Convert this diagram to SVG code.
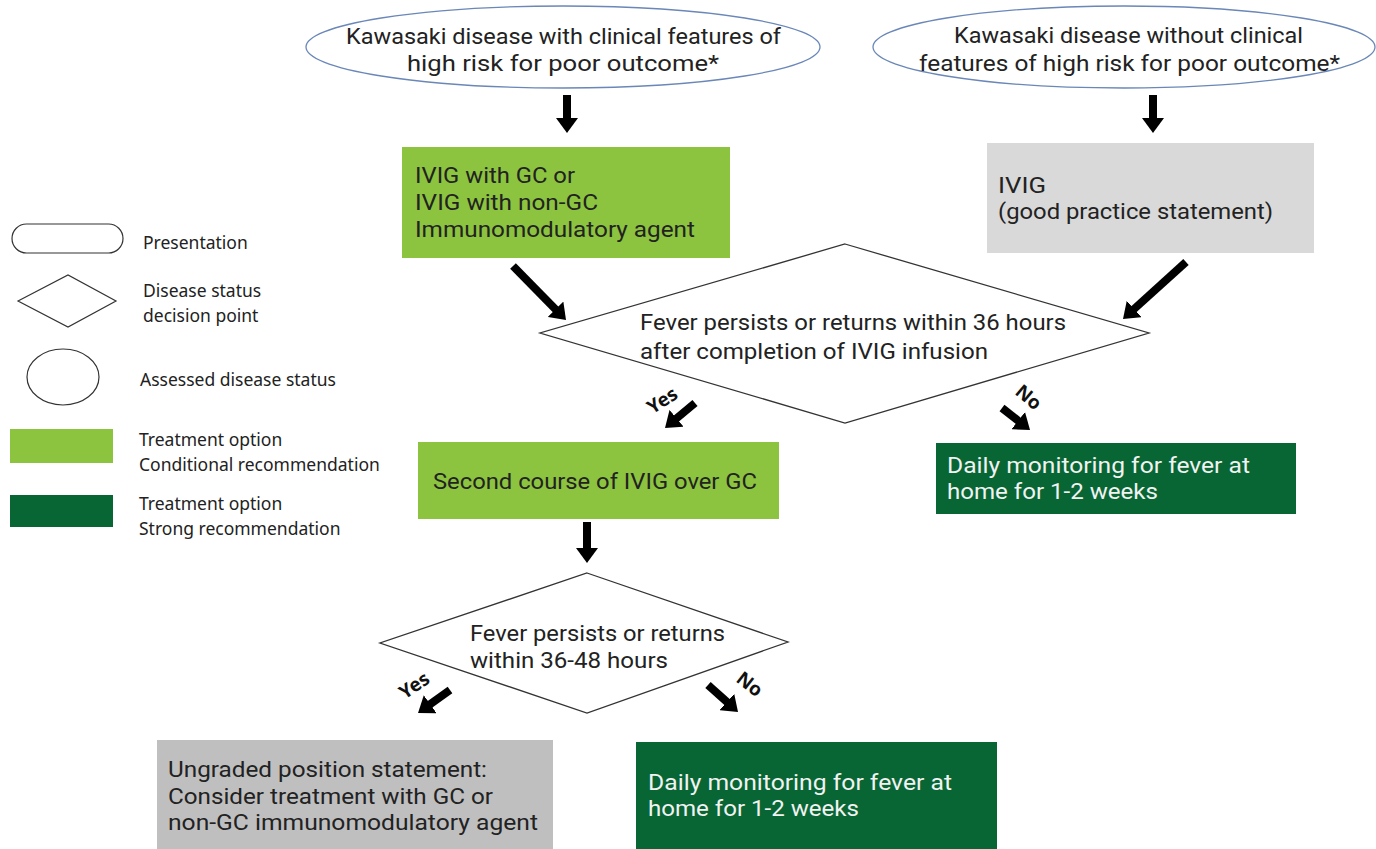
<svg xmlns="http://www.w3.org/2000/svg" width="1376" height="849" viewBox="0 0 1376 849">
<style>
.t{font-family:Roboto,"Noto Sans","Liberation Sans",sans-serif;font-size:22px;fill:#222}
.w{fill:#f2f2f2}
.lg{font-family:"Noto Sans","Open Sans","Liberation Sans",sans-serif;font-size:17.5px;fill:#222}
.yn{font-family:"Noto Sans","Liberation Sans",sans-serif;font-size:19px;font-weight:bold;fill:#111}
.pres{fill:#fff;stroke:#6a87b8;stroke-width:1.3}
.dia{fill:#fff;stroke:#333;stroke-width:1.3}
.lgs{fill:#fff;stroke:#333;stroke-width:1.2}
.lite{fill:#8cc43f}
.dark{fill:#076634}
.grey1{fill:#d9d9d9}
.grey2{fill:#bfbfbf}
.arr{stroke:#000;stroke-width:8;fill:none;marker-end:url(#ah)}
</style>
<defs>
<marker id="ah" markerUnits="userSpaceOnUse" markerWidth="15" markerHeight="22" viewBox="0 0 15 22" refX="1" refY="11" orient="auto">
<path d="M0,0 L15,11 L0,22 z" fill="#000"/>
</marker>
</defs>
<rect width="1376" height="849" fill="#fff"/>

<g id="legend">
<rect class="lgs" x="12" y="224" width="111" height="29" rx="14.5"/>
<text class="lg" x="143" y="249">Presentation</text>
<polygon class="lgs" points="18,301 68,275 116,301 68,327"/>
<text class="lg" x="143" y="297">Disease status</text>
<text class="lg" x="143" y="322">decision point</text>
<ellipse class="lgs" cx="63" cy="377" rx="36" ry="28"/>
<text class="lg" x="140" y="386">Assessed disease status</text>
<rect class="lite" x="10" y="429" width="103" height="34"/>
<text class="lg" x="139" y="446">Treatment option</text>
<text class="lg" x="139" y="471">Conditional recommendation</text>
<rect class="dark" x="10" y="495" width="103" height="32"/>
<text class="lg" x="139" y="510">Treatment option</text>
<text class="lg" x="139" y="535">Strong recommendation</text>
</g>

<g id="pres-high">
<ellipse class="pres" cx="563" cy="47" rx="257" ry="41"/>
<text class="t" x="346" y="44" textLength="435" lengthAdjust="spacingAndGlyphs">Kawasaki disease with clinical features of</text>
<text class="t" x="407" y="71" textLength="312" lengthAdjust="spacingAndGlyphs">high risk for poor outcome*</text>
</g>

<g id="pres-low">
<ellipse class="pres" cx="1124" cy="47" rx="251" ry="41"/>
<text class="t" x="954" y="43" textLength="349" lengthAdjust="spacingAndGlyphs">Kawasaki disease without clinical</text>
<text class="t" x="919" y="71" textLength="421" lengthAdjust="spacingAndGlyphs">features of high risk for poor outcome*</text>
</g>

<g id="ivig-gc">
<rect class="lite" x="402" y="147" width="328" height="111"/>
<text class="t" x="415" y="183" textLength="160" lengthAdjust="spacingAndGlyphs">IVIG with GC or</text>
<text class="t" x="415" y="210" textLength="183" lengthAdjust="spacingAndGlyphs">IVIG with non-GC</text>
<text class="t" x="415" y="237" textLength="280" lengthAdjust="spacingAndGlyphs">Immunomodulatory agent</text>
</g>

<g id="ivig-gps">
<rect class="grey1" x="987" y="143" width="327" height="110"/>
<text class="t" x="998" y="193" textLength="48" lengthAdjust="spacingAndGlyphs">IVIG</text>
<text class="t" x="998" y="219" textLength="275" lengthAdjust="spacingAndGlyphs">(good practice statement)</text>
</g>

<g id="decision-36">
<polygon class="dia" points="845,244 1149,333 845,423 540,333"/>
<text class="t" x="640" y="330" textLength="426" lengthAdjust="spacingAndGlyphs">Fever persists or returns within 36 hours</text>
<text class="t" x="640" y="359" textLength="348" lengthAdjust="spacingAndGlyphs">after completion of IVIG infusion</text>
</g>

<g id="second-ivig">
<rect class="lite" x="418" y="442" width="361" height="77"/>
<text class="t" x="433" y="489" textLength="324" lengthAdjust="spacingAndGlyphs">Second course of IVIG over GC</text>
</g>

<g id="monitor-1">
<rect class="dark" x="936" y="443" width="360" height="71"/>
<text class="t w" x="947" y="473" textLength="303" lengthAdjust="spacingAndGlyphs">Daily monitoring for fever at</text>
<text class="t w" x="947" y="499" textLength="211" lengthAdjust="spacingAndGlyphs">home for 1-2 weeks</text>
</g>

<g id="decision-48">
<polygon class="dia" points="587,573 788,642 587,713 380,643"/>
<text class="t" x="470" y="641" textLength="255" lengthAdjust="spacingAndGlyphs">Fever persists or returns</text>
<text class="t" x="470" y="668" textLength="198" lengthAdjust="spacingAndGlyphs">within 36-48 hours</text>
</g>

<g id="ungraded">
<rect class="grey2" x="157" y="740" width="396" height="109"/>
<text class="t" x="168" y="777" textLength="319" lengthAdjust="spacingAndGlyphs">Ungraded position statement:</text>
<text class="t" x="168" y="804" textLength="325" lengthAdjust="spacingAndGlyphs">Consider treatment with GC or</text>
<text class="t" x="168" y="830" textLength="370" lengthAdjust="spacingAndGlyphs">non-GC immunomodulatory agent</text>
</g>

<g id="monitor-2">
<rect class="dark" x="636" y="742" width="361" height="107"/>
<text class="t w" x="648" y="790" textLength="304" lengthAdjust="spacingAndGlyphs">Daily monitoring for fever at</text>
<text class="t w" x="648" y="816" textLength="211" lengthAdjust="spacingAndGlyphs">home for 1-2 weeks</text>
</g>

<g id="connectors">
<line class="arr" x1="567" y1="95" x2="567" y2="119"/>
<line class="arr" x1="1153" y1="95" x2="1153" y2="119"/>
<line class="arr" x1="513" y1="266" x2="556.2" y2="310"/>
<line class="arr" x1="1186" y1="262" x2="1133.4" y2="309.6"/>
<line class="arr" x1="695" y1="403" x2="675.8" y2="419"/>
<line class="arr" x1="1002" y1="408" x2="1019" y2="421.3"/>
<line class="arr" x1="587" y1="522" x2="587" y2="549"/>
<line class="arr" x1="450" y1="690" x2="429.4" y2="704.8"/>
<line class="arr" x1="708" y1="685" x2="727.6" y2="702.6"/>
<text class="yn" text-anchor="middle" dominant-baseline="central" transform="translate(662,400) rotate(-33)">Yes</text>
<text class="yn" text-anchor="middle" dominant-baseline="central" transform="translate(1029,397) rotate(40)">No</text>
<text class="yn" text-anchor="middle" dominant-baseline="central" transform="translate(414,685) rotate(-34)">Yes</text>
<text class="yn" text-anchor="middle" dominant-baseline="central" transform="translate(750,684) rotate(38)">No</text>
</g>
</svg>
